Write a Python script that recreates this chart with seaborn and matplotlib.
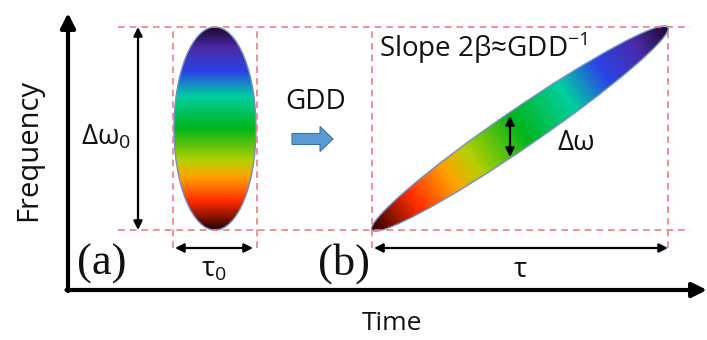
import numpy as np
import matplotlib
matplotlib.use("Agg")
import matplotlib.pyplot as plt
from matplotlib.colors import LinearSegmentedColormap
from matplotlib.patches import Ellipse, FancyArrow
import seaborn as sns

# spectrum of the pulse, low frequency (red) -> high frequency (violet)
spectrum_pos = [0.00, 0.14, 0.26, 0.34, 0.50, 0.66, 0.78, 0.90, 1.00]
spectrum_colors = ["#2a0000", "#ff2c00", "#ffa200", "#b5d000", "#00b51c",
                   "#00cfa0", "#2a44e6", "#4a2aa8", "#1e0a2e"]

# schematic geometry in (time, frequency) units
freq_low, freq_high = 110, 313        # spectral edges of the pulse
tau0_start, tau0_end = 173, 257       # transform limited pulse (a)
tau_start, tau_end = 372, 668         # chirped pulse (b)
chirp_width = 38                      # local bandwidth across the chirp
dw_time, dw_low, dw_high = 510, 183, 224

sns.set_theme(style="white")
plt.rcParams["font.family"] = ["Open Sans", "DejaVu Sans"]
plt.rcParams["mathtext.fontset"] = "custom"
plt.rcParams["mathtext.rm"] = "Open Sans"

cmap = LinearSegmentedColormap.from_list("spectrum", list(zip(spectrum_pos, spectrum_colors)))

fig = plt.figure(figsize=(7.07, 3.40), dpi=100)
ax = fig.add_axes([0, 0, 1, 1])
ax.set_xlim(0, 707)
ax.set_ylim(0, 340)
ax.axis("off")

dash = dict(color="#f07c84", lw=1.2, ls=(0, (4, 3)))
edge = "#6f8fc4"

# guide lines
ax.hlines([freq_low, freq_high], 118, 690, **dash)
for x in [tau0_start, tau0_end, tau_start, tau_end]:
    ax.vlines(x, 92, freq_high, **dash)

# pulse (a): gradient along frequency
fa_c = (tau0_start + tau0_end) / 2
fa = np.linspace(freq_low, freq_high, 300)
img_a = ((fa - freq_low) / (freq_high - freq_low))[:, None] * np.ones((1, 10))
im = ax.imshow(img_a, cmap=cmap, origin="lower", aspect="auto",
               extent=[tau0_start, tau0_end, freq_low, freq_high], interpolation="bilinear")
ell_a = Ellipse((fa_c, (freq_low + freq_high) / 2), tau0_end - tau0_start - 2,
                freq_high - freq_low, fc="none", ec=edge, lw=1.0)
ax.add_patch(ell_a)
im.set_clip_path(ell_a)

# pulse (b): gradient along the chirp direction
dx, dy = tau_end - tau_start, freq_high - freq_low
length = np.hypot(dx, dy)
angle = np.degrees(np.arctan2(dy, dx))
xx, yy = np.meshgrid(np.linspace(tau_start, tau_end, 400), np.linspace(freq_low, freq_high, 300))
proj = ((xx - tau_start) * dx + (yy - freq_low) * dy) / length**2
im_b = ax.imshow(np.clip(proj, 0, 1), cmap=cmap, origin="lower", aspect="auto",
                 extent=[tau_start, tau_end, freq_low, freq_high], interpolation="bilinear")
ell_b = Ellipse(((tau_start + tau_end) / 2, (freq_low + freq_high) / 2), length,
                chirp_width, angle=angle, fc="none", ec=edge, lw=1.0)
ax.add_patch(ell_b)
im_b.set_clip_path(ell_b)

# axes arrows
axis_arrow = dict(arrowstyle="-|>", color="black", lw=3, mutation_scale=22, shrinkA=0, shrinkB=0)
ax.annotate("", xy=(68, 327), xytext=(68, 49), arrowprops=axis_arrow)
ax.annotate("", xy=(707, 50), xytext=(66.5, 50), arrowprops=axis_arrow)

# double arrows
dbl = dict(arrowstyle="<|-|>", color="black", lw=1.6, mutation_scale=13, shrinkA=0, shrinkB=0)
ax.annotate("", xy=(138, freq_high), xytext=(138, freq_low), arrowprops=dbl)
ax.annotate("", xy=(tau0_start + 2, 92), xytext=(tau0_end - 4, 92), arrowprops=dbl)
ax.annotate("", xy=(tau_start + 2, 92), xytext=(tau_end, 92), arrowprops=dbl)
ax.annotate("", xy=(dw_time, dw_high), xytext=(dw_time, dw_low), arrowprops=dbl)

# GDD block arrow
ax.add_patch(FancyArrow(292, 201, 41, 0, width=11, head_width=25, head_length=13,
                        length_includes_head=True, fc="#5b9bd5", ec="#41719c", lw=0.8))

# labels
txt = dict(color="#111111", ha="center", va="center")
ax.text(29, 190, "Frequency", rotation=90, fontsize=21, **txt)
ax.text(392, 16, "Time", fontsize=19, **txt)
ax.text(106, 203, r"Δω$_{\mathregular{0}}$", fontsize=20, **txt)
ax.text(214, 71, r"τ$_{\mathregular{0}}$", fontsize=20, **txt)
ax.text(316, 238, "GDD", fontsize=20, **txt)
ax.text(520, 70, "τ", fontsize=20, **txt)
ax.text(576, 197, "Δω", fontsize=20, **txt)
ax.text(379, 292, r"Slope 2β≈GDD$^{\mathregular{-1}}$", fontsize=20, color="#111111", ha="left", va="center")
ax.text(102, 76, "(a)", fontsize=32, family="Liberation Serif", **txt)
ax.text(344, 76, "(b)", fontsize=32, family="Liberation Serif", **txt)

fig.savefig("out.png", dpi=100)
